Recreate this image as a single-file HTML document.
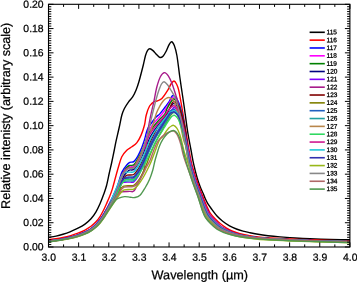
<!DOCTYPE html>
<html><head><meta charset="utf-8"><title>Spectra</title>
<style>html,body{margin:0;padding:0;background:#fff;}body{width:357px;height:282px;overflow:hidden;font-family:"Liberation Sans",sans-serif;}svg{display:block;will-change:transform;}.t{filter:grayscale(1);text-rendering:geometricPrecision;}</style>
</head><body>
<svg width="357" height="282" viewBox="0 0 357 282">
<rect width="357" height="282" fill="#fff"/>
<defs><clipPath id="c"><rect x="48.50" y="4.30" width="301.40" height="242.70"/></clipPath></defs>
<g clip-path="url(#c)" fill="none" stroke-width="1.4" stroke-linejoin="round" stroke-linecap="round">
<path stroke="#000000" d="M48.50,237.40C49.75,237.18 53.58,236.58 56.00,236.06C58.42,235.54 60.67,234.96 63.00,234.26C65.33,233.55 67.50,232.84 70.00,231.83C72.50,230.82 75.50,229.49 78.00,228.19C80.50,226.90 82.83,225.62 85.00,224.06C87.17,222.49 89.17,220.85 91.00,218.81C92.83,216.76 94.50,214.31 96.00,211.81C97.50,209.30 98.75,206.61 100.00,203.78C101.25,200.96 102.42,197.84 103.50,194.84C104.58,191.84 105.53,189.42 106.50,185.78C107.47,182.14 108.43,176.88 109.30,173.00C110.17,169.12 110.87,166.33 111.70,162.50C112.53,158.67 113.60,153.45 114.30,150.00C115.00,146.55 115.07,145.63 115.90,141.80C116.73,137.97 118.32,131.43 119.30,127.00C120.28,122.57 120.95,118.28 121.80,115.20C122.65,112.12 123.27,110.73 124.40,108.50C125.53,106.27 127.20,103.77 128.60,101.80C130.00,99.83 131.55,98.67 132.80,96.70C134.05,94.73 135.08,92.48 136.10,90.00C137.12,87.52 137.70,85.97 138.90,81.80C140.10,77.63 142.20,69.38 143.30,65.00C144.40,60.62 144.78,57.95 145.50,55.50C146.22,53.05 146.87,51.43 147.60,50.30C148.33,49.17 149.00,48.65 149.90,48.70C150.80,48.75 151.90,49.63 153.00,50.60C154.10,51.57 155.33,53.35 156.50,54.50C157.67,55.65 158.92,57.22 160.00,57.50C161.08,57.78 162.00,57.20 163.00,56.20C164.00,55.20 165.00,53.40 166.00,51.50C167.00,49.60 168.07,46.43 169.00,44.80C169.93,43.17 170.72,41.58 171.60,41.70C172.48,41.82 173.42,43.20 174.30,45.50C175.18,47.80 175.98,50.25 176.90,55.50C177.82,60.75 178.95,70.92 179.80,77.00C180.65,83.08 181.25,86.92 182.00,92.00C182.75,97.08 183.35,100.83 184.30,107.50C185.25,114.17 186.58,124.92 187.70,132.00C188.82,139.08 190.03,144.77 191.00,150.00C191.97,155.23 192.47,158.73 193.50,163.40C194.53,168.07 196.08,174.10 197.20,178.00C198.32,181.90 199.20,184.20 200.20,186.80C201.20,189.40 202.37,191.65 203.20,193.60C204.03,195.55 204.43,196.82 205.20,198.50C205.97,200.18 206.67,201.85 207.80,203.70C208.93,205.55 210.47,207.55 212.00,209.60C213.53,211.65 215.22,214.07 217.00,216.00C218.78,217.93 220.62,219.57 222.70,221.20C224.78,222.83 227.22,224.50 229.50,225.80C231.78,227.10 234.15,228.12 236.40,229.00C238.65,229.88 240.73,230.48 243.00,231.10C245.27,231.72 247.50,232.16 250.00,232.70C252.50,233.24 255.00,233.82 258.00,234.31C261.00,234.81 264.33,235.26 268.00,235.68C271.67,236.10 275.50,236.46 280.00,236.84C284.50,237.21 290.00,237.61 295.00,237.94C300.00,238.27 304.17,238.53 310.00,238.80C315.83,239.07 323.35,239.38 330.00,239.55C336.65,239.72 346.58,239.76 349.90,239.80"/>
<path stroke="#ff0000" d="M48.50,239.60C49.75,239.46 53.58,239.10 56.00,238.76C58.42,238.42 60.67,238.04 63.00,237.56C65.33,237.08 67.50,236.60 70.00,235.87C72.50,235.15 75.50,234.18 78.00,233.20C80.50,232.23 82.83,231.18 85.00,230.02C87.17,228.87 89.17,227.65 91.00,226.29C92.83,224.93 94.50,223.47 96.00,221.85C97.50,220.24 98.75,218.52 100.00,216.58C101.25,214.64 102.42,212.36 103.50,210.22C104.58,208.07 105.52,205.91 106.50,203.70C107.48,201.50 108.43,199.43 109.40,197.00C110.37,194.57 111.40,191.93 112.30,189.10C113.20,186.27 113.77,183.72 114.80,180.00C115.83,176.28 117.33,170.68 118.50,166.80C119.67,162.92 120.42,159.47 121.80,156.70C123.18,153.93 125.12,151.85 126.80,150.20C128.48,148.55 130.22,148.07 131.90,146.80C133.58,145.53 135.37,144.55 136.90,142.60C138.43,140.65 139.83,138.03 141.10,135.10C142.37,132.17 143.65,128.32 144.50,125.00C145.35,121.68 145.35,118.37 146.20,115.20C147.05,112.03 148.33,108.23 149.60,106.00C150.87,103.77 152.57,102.63 153.80,101.80C155.03,100.97 155.65,101.53 157.00,101.00C158.35,100.47 160.10,100.40 161.90,98.60C163.70,96.80 166.28,92.63 167.80,90.20C169.32,87.77 169.97,85.53 171.00,84.00C172.03,82.47 173.08,81.00 174.00,81.00C174.92,81.00 175.72,82.47 176.50,84.00C177.28,85.53 177.78,86.20 178.70,90.20C179.62,94.20 180.78,101.03 182.00,108.00C183.22,114.97 184.83,125.00 186.00,132.00C187.17,139.00 188.00,144.50 189.00,150.00C190.00,155.50 190.78,160.17 192.00,165.00C193.22,169.83 195.05,175.17 196.30,179.00C197.55,182.83 198.48,185.25 199.50,188.00C200.52,190.75 201.50,193.22 202.40,195.50C203.30,197.78 204.05,199.65 204.90,201.70C205.75,203.75 206.62,205.88 207.50,207.80C208.38,209.72 208.98,211.42 210.20,213.20C211.42,214.98 213.08,216.73 214.80,218.50C216.52,220.27 218.62,222.25 220.50,223.80C222.38,225.35 224.18,226.60 226.10,227.80C228.02,229.00 229.68,230.00 232.00,231.00C234.32,232.00 237.00,233.02 240.00,233.80C243.00,234.58 247.00,235.19 250.00,235.70C253.00,236.21 255.00,236.50 258.00,236.85C261.00,237.19 264.33,237.50 268.00,237.77C271.67,238.03 275.50,238.22 280.00,238.45C284.50,238.68 290.00,238.90 295.00,239.13C300.00,239.35 304.17,239.56 310.00,239.80C315.83,240.04 323.35,240.36 330.00,240.56C336.65,240.76 346.58,240.93 349.90,241.00"/>
<path stroke="#0000ff" d="M48.50,241.14C49.75,240.97 53.58,240.49 56.00,240.11C58.42,239.73 60.67,239.33 63.00,238.85C65.33,238.37 67.50,237.90 70.00,237.24C72.50,236.58 75.50,235.73 78.00,234.89C80.50,234.05 82.83,233.22 85.00,232.21C87.17,231.21 89.17,230.14 91.00,228.86C92.83,227.59 94.50,226.08 96.00,224.57C97.50,223.05 98.67,221.57 100.00,219.78C101.33,217.98 102.67,215.98 104.00,213.81C105.33,211.64 106.52,209.55 108.00,206.75C109.48,203.95 111.35,200.29 112.86,197.00C114.37,193.71 115.83,190.33 117.06,187.00C118.29,183.67 119.43,179.53 120.26,177.00C121.09,174.47 120.98,173.80 122.06,171.80C123.14,169.80 125.48,166.58 126.76,165.00C128.04,163.42 128.59,162.87 129.76,162.30C130.93,161.73 132.48,162.60 133.80,161.60C135.12,160.60 136.38,158.62 137.70,156.30C139.02,153.98 140.57,150.45 141.70,147.70C142.83,144.95 143.70,142.42 144.50,139.80C145.30,137.18 145.83,134.13 146.50,132.00C147.17,129.87 147.70,128.45 148.50,127.00C149.30,125.55 150.12,124.88 151.30,123.30C152.48,121.72 154.15,119.12 155.60,117.50C157.05,115.88 158.40,115.35 160.00,113.60C161.60,111.85 163.67,109.00 165.20,107.00C166.73,105.00 168.15,103.27 169.20,101.60C170.25,99.93 170.82,98.00 171.50,97.00C172.18,96.00 172.47,95.38 173.30,95.60C174.13,95.82 175.57,97.05 176.50,98.30C177.43,99.55 178.18,101.30 178.90,103.10C179.62,104.90 179.93,105.85 180.80,109.10C181.67,112.35 183.13,117.45 184.10,122.60C185.07,127.75 185.96,135.43 186.64,140.00C187.33,144.57 187.46,145.83 188.21,150.00C188.96,154.17 189.94,160.17 191.12,165.00C192.31,169.83 194.07,175.17 195.30,179.00C196.53,182.83 197.47,185.20 198.50,188.00C199.53,190.80 200.57,193.43 201.48,195.81C202.39,198.19 203.13,200.17 203.96,202.28C204.79,204.39 205.58,206.50 206.46,208.47C207.33,210.44 207.99,212.24 209.22,214.10C210.45,215.95 212.11,217.77 213.84,219.61C215.57,221.46 217.67,223.59 219.62,225.18C221.56,226.77 223.50,227.99 225.51,229.15C227.52,230.32 229.27,231.21 231.69,232.16C234.10,233.10 236.95,234.07 240.00,234.83C243.05,235.58 247.00,236.19 250.00,236.67C253.00,237.16 254.67,237.39 258.00,237.73C261.33,238.07 264.67,238.37 270.00,238.70C275.33,239.02 283.33,239.39 290.00,239.70C296.67,240.00 303.33,240.26 310.00,240.51C316.67,240.75 323.35,240.97 330.00,241.16C336.65,241.36 346.58,241.58 349.90,241.66"/>
<path stroke="#ff00ff" d="M48.50,241.38C49.75,241.21 53.58,240.72 56.00,240.35C58.42,239.98 60.67,239.60 63.00,239.15C65.33,238.70 67.50,238.27 70.00,237.65C72.50,237.03 75.50,236.23 78.00,235.42C80.50,234.62 82.83,233.79 85.00,232.81C87.17,231.83 89.17,230.77 91.00,229.54C92.83,228.31 94.50,226.88 96.00,225.43C97.50,223.99 98.67,222.59 100.00,220.86C101.33,219.14 102.67,217.17 104.00,215.07C105.33,212.97 106.26,211.26 108.00,208.25C109.74,205.24 112.64,200.54 114.41,197.00C116.18,193.46 117.38,190.33 118.61,187.00C119.84,183.67 120.49,180.00 121.81,177.00C123.13,174.00 125.26,170.78 126.54,169.00C127.83,167.22 128.33,166.87 129.54,166.30C130.75,165.73 132.31,166.90 133.80,165.60C135.29,164.30 137.05,161.10 138.50,158.50C139.95,155.90 141.33,152.92 142.50,150.00C143.67,147.08 144.62,143.83 145.50,141.00C146.38,138.17 146.97,135.17 147.80,133.00C148.63,130.83 149.47,129.67 150.50,128.00C151.53,126.33 152.75,124.58 154.00,123.00C155.25,121.42 156.67,120.00 158.00,118.50C159.33,117.00 160.67,115.67 162.00,114.00C163.33,112.33 164.75,110.42 166.00,108.50C167.25,106.58 168.58,104.08 169.50,102.50C170.42,100.92 170.92,99.82 171.50,99.00C172.08,98.18 172.22,97.38 173.00,97.60C173.78,97.82 175.27,99.05 176.20,100.30C177.13,101.55 177.88,103.30 178.60,105.10C179.32,106.90 179.63,107.85 180.50,111.10C181.37,114.35 182.85,119.78 183.80,124.60C184.75,129.42 185.50,135.77 186.19,140.00C186.89,144.23 187.19,145.83 187.97,150.00C188.75,154.17 189.69,160.17 190.86,165.00C192.03,169.83 193.78,175.17 195.00,179.00C196.22,182.83 197.17,185.18 198.20,188.00C199.23,190.82 200.29,193.50 201.21,195.91C202.12,198.32 202.86,200.33 203.68,202.46C204.50,204.59 205.27,206.68 206.15,208.67C207.02,210.65 207.69,212.49 208.93,214.36C210.17,216.24 211.83,218.06 213.58,219.91C215.33,221.76 217.46,223.89 219.43,225.47C221.40,227.05 223.37,228.25 225.41,229.39C227.44,230.53 229.21,231.39 231.64,232.32C234.08,233.24 236.94,234.19 240.00,234.93C243.06,235.67 247.00,236.26 250.00,236.74C253.00,237.21 254.67,237.44 258.00,237.77C261.33,238.10 264.67,238.40 270.00,238.73C275.33,239.06 283.33,239.43 290.00,239.73C296.67,240.03 303.33,240.29 310.00,240.54C316.67,240.78 323.35,241.00 330.00,241.19C336.65,241.38 346.58,241.61 349.90,241.69"/>
<path stroke="#008000" d="M48.50,241.26C49.75,241.09 53.58,240.61 56.00,240.23C58.42,239.85 60.67,239.46 63.00,239.00C65.33,238.54 67.50,238.09 70.00,237.45C72.50,236.80 75.50,235.98 78.00,235.16C80.50,234.34 82.83,233.50 85.00,232.51C87.17,231.52 89.17,230.45 91.00,229.20C92.83,227.95 94.50,226.48 96.00,225.00C97.50,223.52 98.67,222.08 100.00,220.32C101.33,218.56 102.67,216.57 104.00,214.43C105.33,212.30 106.39,210.41 108.00,207.50C109.61,204.59 112.00,200.42 113.64,197.00C115.27,193.58 116.60,190.33 117.84,187.00C119.07,183.67 119.64,180.13 121.04,177.00C122.43,173.87 124.82,170.12 126.18,168.20C127.53,166.28 127.91,166.07 129.18,165.50C130.45,164.93 132.33,165.97 133.80,164.80C135.27,163.63 136.60,160.88 138.00,158.50C139.40,156.12 140.90,153.33 142.20,150.50C143.50,147.67 144.70,144.33 145.80,141.50C146.90,138.67 147.77,135.67 148.80,133.50C149.83,131.33 150.80,130.17 152.00,128.50C153.20,126.83 154.67,125.08 156.00,123.50C157.33,121.92 158.55,120.55 160.00,119.00C161.45,117.45 163.53,115.90 164.70,114.20C165.87,112.50 166.03,110.75 167.00,108.80C167.97,106.85 169.38,104.13 170.50,102.50C171.62,100.87 172.63,99.13 173.70,99.00C174.77,98.87 175.97,100.45 176.90,101.70C177.83,102.95 178.58,104.70 179.30,106.50C180.02,108.30 180.33,109.25 181.20,112.50C182.07,115.75 183.62,121.42 184.50,126.00C185.38,130.58 185.90,136.00 186.45,140.00C187.00,144.00 187.11,145.83 187.81,150.00C188.52,154.17 189.52,160.17 190.69,165.00C191.85,169.83 193.58,175.17 194.80,179.00C196.02,182.83 196.96,185.17 198.00,188.00C199.04,190.83 200.11,193.54 201.03,195.97C201.94,198.40 202.68,200.44 203.49,202.57C204.31,204.71 205.06,206.81 205.94,208.80C206.81,210.79 207.49,212.66 208.73,214.54C209.98,216.43 211.65,218.26 213.41,220.11C215.17,221.97 217.31,224.10 219.30,225.67C221.29,227.24 223.28,228.42 225.34,229.54C227.39,230.67 229.17,231.51 231.62,232.42C234.06,233.33 236.94,234.27 240.00,235.00C243.06,235.72 247.00,236.31 250.00,236.78C253.00,237.24 254.67,237.47 258.00,237.79C261.33,238.12 264.67,238.43 270.00,238.75C275.33,239.08 283.33,239.45 290.00,239.75C296.67,240.05 303.33,240.32 310.00,240.56C316.67,240.80 323.35,241.02 330.00,241.21C336.65,241.40 346.58,241.63 349.90,241.71"/>
<path stroke="#000080" d="M48.50,241.34C49.75,241.17 53.58,240.68 56.00,240.31C58.42,239.94 60.67,239.55 63.00,239.10C65.33,238.65 67.50,238.21 70.00,237.58C72.50,236.95 75.50,236.15 78.00,235.34C80.50,234.52 82.83,233.70 85.00,232.71C87.17,231.73 89.17,230.67 91.00,229.43C92.83,228.19 94.50,226.75 96.00,225.29C97.50,223.83 98.67,222.42 100.00,220.68C101.33,218.94 102.67,216.97 104.00,214.86C105.33,212.74 106.01,210.98 108.00,208.00C109.99,205.02 113.93,200.50 115.95,197.00C117.98,193.50 118.92,190.33 120.15,187.00C121.39,183.67 122.33,179.37 123.35,177.00C124.38,174.63 125.31,173.95 126.31,172.80C127.30,171.65 128.06,170.67 129.31,170.10C130.56,169.53 132.32,170.50 133.80,169.40C135.28,168.30 136.75,165.90 138.20,163.50C139.65,161.10 141.12,158.00 142.50,155.00C143.88,152.00 145.22,148.50 146.50,145.50C147.78,142.50 148.95,139.42 150.20,137.00C151.45,134.58 152.70,132.92 154.00,131.00C155.30,129.08 156.67,127.25 158.00,125.50C159.33,123.75 160.67,122.25 162.00,120.50C163.33,118.75 164.75,116.92 166.00,115.00C167.25,113.08 168.50,110.67 169.50,109.00C170.50,107.33 171.25,105.93 172.00,105.00C172.75,104.07 173.13,103.22 174.00,103.40C174.87,103.58 176.27,104.85 177.20,106.10C178.13,107.35 178.88,109.10 179.60,110.90C180.32,112.70 180.63,113.65 181.50,116.90C182.37,120.15 184.02,126.55 184.80,130.40C185.58,134.25 185.75,136.73 186.21,140.00C186.67,143.27 186.87,145.83 187.57,150.00C188.28,154.17 189.27,160.17 190.43,165.00C191.58,169.83 193.29,175.17 194.50,179.00C195.71,182.83 196.66,185.16 197.70,188.00C198.74,190.84 199.83,193.60 200.75,196.06C201.67,198.52 202.40,200.59 203.21,202.75C204.03,204.91 204.75,206.99 205.62,209.00C206.50,211.01 207.18,212.91 208.44,214.81C209.69,216.71 211.38,218.55 213.16,220.41C214.93,222.27 217.10,224.40 219.11,225.96C221.12,227.53 223.16,228.67 225.24,229.78C227.31,230.88 229.11,231.69 231.57,232.58C234.03,233.47 236.93,234.39 240.00,235.10C243.07,235.81 247.00,236.38 250.00,236.84C253.00,237.29 254.67,237.51 258.00,237.83C261.33,238.16 264.67,238.46 270.00,238.79C275.33,239.11 283.33,239.49 290.00,239.79C296.67,240.09 303.33,240.35 310.00,240.59C316.67,240.83 323.35,241.05 330.00,241.24C336.65,241.43 346.58,241.66 349.90,241.74"/>
<path stroke="#8000ff" d="M48.50,241.10C49.75,240.93 53.58,240.45 56.00,240.07C58.42,239.69 60.67,239.28 63.00,238.80C65.33,238.32 67.50,237.84 70.00,237.18C72.50,236.51 75.50,235.65 78.00,234.80C80.50,233.96 82.83,233.12 85.00,232.11C87.17,231.10 89.17,230.03 91.00,228.75C92.83,227.47 94.50,225.95 96.00,224.42C97.50,222.90 98.67,221.40 100.00,219.59C101.33,217.79 102.67,215.79 104.00,213.61C105.33,211.42 106.57,209.27 108.00,206.50C109.43,203.73 110.79,200.55 112.60,197.00C114.41,193.45 117.33,187.62 118.88,185.20C120.42,182.78 120.06,183.02 121.88,182.50C123.70,181.98 127.81,182.22 129.80,182.10C131.79,181.98 132.42,182.73 133.80,181.80C135.18,180.87 136.73,178.80 138.10,176.50C139.47,174.20 140.68,171.08 142.00,168.00C143.32,164.92 144.67,161.25 146.00,158.00C147.33,154.75 148.67,151.50 150.00,148.50C151.33,145.50 152.67,142.67 154.00,140.00C155.33,137.33 156.67,134.83 158.00,132.50C159.33,130.17 160.67,128.17 162.00,126.00C163.33,123.83 164.67,121.75 166.00,119.50C167.33,117.25 168.92,114.25 170.00,112.50C171.08,110.75 171.78,109.82 172.50,109.00C173.22,108.18 173.47,107.38 174.30,107.60C175.13,107.82 176.57,109.05 177.50,110.30C178.43,111.55 179.18,113.30 179.90,115.10C180.62,116.90 180.93,117.85 181.80,121.10C182.67,124.35 184.20,129.78 185.10,134.60C186.00,139.42 186.36,144.93 187.18,150.00C187.99,155.07 188.85,160.17 189.99,165.00C191.12,169.83 192.80,175.17 194.00,179.00C195.20,182.83 196.15,185.13 197.20,188.00C198.25,190.87 199.37,193.71 200.29,196.22C201.22,198.73 201.94,200.86 202.74,203.04C203.55,205.23 204.24,207.30 205.10,209.33C205.97,211.37 206.68,213.33 207.95,215.26C209.22,217.19 210.92,219.04 212.73,220.91C214.54,222.78 216.74,224.91 218.79,226.46C220.85,228.00 222.95,229.10 225.06,230.17C227.18,231.23 229.01,232.00 231.50,232.85C233.99,233.70 236.92,234.59 240.00,235.27C243.08,235.95 247.00,236.50 250.00,236.94C253.00,237.38 254.67,237.58 258.00,237.90C261.33,238.22 264.67,238.52 270.00,238.84C275.33,239.17 283.33,239.54 290.00,239.84C296.67,240.14 303.33,240.40 310.00,240.64C316.67,240.88 323.35,241.09 330.00,241.29C336.65,241.48 346.58,241.70 349.90,241.79"/>
<path stroke="#a81c8c" d="M48.50,241.58C49.75,241.41 53.58,240.91 56.00,240.55C58.42,240.19 60.67,239.83 63.00,239.40C65.33,238.97 67.50,238.57 70.00,237.98C72.50,237.39 75.50,236.64 78.00,235.87C80.50,235.09 82.83,234.27 85.00,233.32C87.17,232.36 89.17,231.31 91.00,230.12C92.83,228.92 94.50,227.54 96.00,226.15C97.50,224.76 98.67,223.43 100.00,221.77C101.33,220.10 102.67,218.20 104.00,216.15C105.33,214.11 105.62,213.11 108.00,209.50C110.38,205.89 116.05,197.45 118.25,194.50C120.46,191.55 119.33,192.32 121.25,191.80C123.18,191.28 127.71,191.52 129.80,191.40C131.89,191.28 132.42,192.43 133.80,191.10C135.18,189.77 136.82,185.83 138.10,183.40C139.38,180.97 140.55,178.65 141.50,176.50C142.45,174.35 143.22,172.92 143.80,170.50C144.38,168.08 144.65,165.42 145.00,162.00C145.35,158.58 145.58,153.67 145.90,150.00C146.22,146.33 146.55,143.28 146.90,140.00C147.25,136.72 147.42,134.15 148.00,130.30C148.58,126.45 149.43,121.65 150.40,116.90C151.37,112.15 152.72,106.82 153.80,101.80C154.88,96.78 155.78,91.02 156.90,86.80C158.02,82.58 159.23,78.87 160.50,76.50C161.77,74.13 163.20,72.72 164.50,72.60C165.80,72.48 167.05,73.98 168.30,75.80C169.55,77.62 170.73,80.23 172.00,83.50C173.27,86.77 175.02,92.67 175.90,95.40C176.78,98.13 176.68,97.47 177.30,99.90C177.92,102.33 178.85,106.48 179.60,110.00C180.35,113.52 181.07,117.17 181.80,121.00C182.53,124.83 183.22,128.17 184.00,133.00C184.78,137.83 185.60,144.67 186.47,150.00C187.33,155.33 188.09,160.17 189.20,165.00C190.31,169.83 191.92,175.17 193.10,179.00C194.28,182.83 195.24,185.08 196.30,188.00C197.36,190.92 198.53,193.91 199.47,196.50C200.40,199.09 201.12,201.33 201.90,203.57C202.68,205.81 203.31,207.85 204.17,209.93C205.03,212.02 205.77,214.09 207.07,216.07C208.36,218.05 210.10,219.93 211.96,221.81C213.82,223.69 216.09,225.83 218.22,227.34C220.36,228.85 222.57,229.87 224.76,230.87C226.95,231.87 228.83,232.54 231.37,233.32C233.91,234.11 236.90,234.94 240.00,235.58C243.10,236.21 247.00,236.72 250.00,237.12C253.00,237.53 254.67,237.71 258.00,238.02C261.33,238.32 264.67,238.62 270.00,238.94C275.33,239.27 283.33,239.65 290.00,239.94C296.67,240.24 303.33,240.49 310.00,240.73C316.67,240.97 323.35,241.18 330.00,241.37C336.65,241.56 346.58,241.79 349.90,241.87"/>
<path stroke="#800000" d="M48.50,241.42C49.75,241.25 53.58,240.76 56.00,240.39C58.42,240.02 60.67,239.65 63.00,239.20C65.33,238.75 67.50,238.33 70.00,237.71C72.50,237.10 75.50,236.31 78.00,235.51C80.50,234.71 82.83,233.89 85.00,232.91C87.17,231.94 89.17,230.88 91.00,229.66C92.83,228.44 94.50,227.01 96.00,225.58C97.50,224.14 98.67,222.76 100.00,221.04C101.33,219.33 102.67,217.38 104.00,215.29C105.33,213.20 106.07,211.55 108.00,208.50C109.93,205.45 113.61,200.58 115.57,197.00C117.53,193.42 118.33,190.18 119.77,187.00C121.21,183.82 122.95,179.87 124.18,177.90C125.42,175.93 125.58,175.77 127.18,175.20C128.78,174.63 131.91,175.62 133.80,174.50C135.69,173.38 137.00,170.92 138.50,168.50C140.00,166.08 141.42,163.00 142.80,160.00C144.18,157.00 145.52,153.58 146.80,150.50C148.08,147.42 149.27,144.25 150.50,141.50C151.73,138.75 152.95,136.42 154.20,134.00C155.45,131.58 156.70,129.08 158.00,127.00C159.30,124.92 160.67,123.50 162.00,121.50C163.33,119.50 164.75,117.17 166.00,115.00C167.25,112.83 168.50,110.42 169.50,108.50C170.50,106.58 171.23,104.68 172.00,103.50C172.77,102.32 173.22,101.30 174.10,101.40C174.98,101.50 176.37,102.85 177.30,104.10C178.23,105.35 178.98,107.10 179.70,108.90C180.42,110.70 180.73,111.65 181.60,114.90C182.47,118.15 184.08,124.22 184.90,128.40C185.72,132.58 186.04,136.40 186.51,140.00C186.98,143.60 187.05,145.83 187.73,150.00C188.42,154.17 189.44,160.17 190.60,165.00C191.76,169.83 193.48,175.17 194.70,179.00C195.92,182.83 196.86,185.17 197.90,188.00C198.94,190.83 200.02,193.56 200.93,196.00C201.85,198.44 202.58,200.49 203.40,202.63C204.22,204.78 204.96,206.87 205.83,208.87C206.71,210.87 207.38,212.74 208.63,214.63C209.88,216.52 211.56,218.36 213.33,220.21C215.09,222.07 217.24,224.20 219.24,225.77C221.23,227.34 223.24,228.50 225.30,229.62C227.36,230.74 229.15,231.57 231.60,232.47C234.05,233.38 236.93,234.31 240.00,235.03C243.07,235.75 247.00,236.33 250.00,236.80C253.00,237.26 254.67,237.48 258.00,237.81C261.33,238.14 264.67,238.44 270.00,238.76C275.33,239.09 283.33,239.46 290.00,239.76C296.67,240.06 303.33,240.33 310.00,240.57C316.67,240.81 323.35,241.03 330.00,241.22C336.65,241.41 346.58,241.64 349.90,241.72"/>
<path stroke="#808000" d="M48.50,241.58C49.75,241.41 53.58,240.91 56.00,240.55C58.42,240.19 60.67,239.83 63.00,239.40C65.33,238.97 67.50,238.57 70.00,237.98C72.50,237.39 75.50,236.64 78.00,235.87C80.50,235.09 82.83,234.27 85.00,233.32C87.17,232.36 89.17,231.31 91.00,230.12C92.83,228.92 94.50,227.54 96.00,226.15C97.50,224.76 98.67,223.43 100.00,221.77C101.33,220.10 102.67,218.20 104.00,216.15C105.33,214.11 106.05,212.69 108.00,209.50C109.95,206.31 113.60,200.45 115.70,197.00C117.81,193.55 119.33,190.62 120.65,188.80C121.97,186.98 122.12,186.62 123.65,186.10C125.17,185.58 128.11,185.82 129.80,185.70C131.49,185.58 132.42,186.18 133.80,185.40C135.18,184.62 136.65,182.98 138.10,181.00C139.55,179.02 141.13,176.17 142.50,173.50C143.87,170.83 145.05,168.08 146.30,165.00C147.55,161.92 148.72,158.25 150.00,155.00C151.28,151.75 152.67,148.42 154.00,145.50C155.33,142.58 156.67,140.00 158.00,137.50C159.33,135.00 160.67,132.92 162.00,130.50C163.33,128.08 164.67,125.42 166.00,123.00C167.33,120.58 168.92,117.63 170.00,116.00C171.08,114.37 171.80,113.83 172.50,113.20C173.20,112.57 173.38,111.92 174.20,112.20C175.02,112.48 176.47,113.65 177.40,114.90C178.33,116.15 179.08,117.90 179.80,119.70C180.52,121.50 180.83,122.45 181.70,125.70C182.57,128.95 184.14,135.15 185.00,139.20C185.86,143.25 186.09,145.70 186.86,150.00C187.64,154.30 188.51,160.17 189.64,165.00C190.76,169.83 192.41,175.17 193.60,179.00C194.79,182.83 195.75,185.11 196.80,188.00C197.85,190.89 199.00,193.80 199.93,196.34C200.85,198.89 201.58,201.07 202.37,203.28C203.16,205.48 203.82,207.54 204.69,209.60C205.55,211.66 206.27,213.67 207.56,215.62C208.84,217.57 210.55,219.44 212.38,221.31C214.22,223.18 216.45,225.32 218.54,226.85C220.63,228.38 222.78,229.44 224.93,230.48C227.08,231.51 228.93,232.24 231.44,233.06C233.96,233.88 236.91,234.75 240.00,235.41C243.09,236.07 247.00,236.60 250.00,237.02C253.00,237.45 254.67,237.64 258.00,237.95C261.33,238.26 264.67,238.57 270.00,238.89C275.33,239.21 283.33,239.59 290.00,239.89C296.67,240.19 303.33,240.44 310.00,240.68C316.67,240.92 323.35,241.13 330.00,241.32C336.65,241.51 346.58,241.74 349.90,241.82"/>
<path stroke="#2060c0" d="M48.50,241.46C49.75,241.29 53.58,240.80 56.00,240.43C58.42,240.06 60.67,239.69 63.00,239.25C65.33,238.81 67.50,238.39 70.00,237.78C72.50,237.17 75.50,236.40 78.00,235.60C80.50,234.81 82.83,233.99 85.00,233.01C87.17,232.04 89.17,230.99 91.00,229.77C92.83,228.56 94.50,227.14 96.00,225.72C97.50,224.30 98.67,222.93 100.00,221.23C101.33,219.52 102.67,217.58 104.00,215.50C105.33,213.42 106.18,211.83 108.00,208.75C109.82,205.67 113.07,200.62 114.93,197.00C116.78,193.38 117.81,189.83 119.13,187.00C120.45,184.17 121.75,181.62 122.87,180.00C123.99,178.38 124.71,177.82 125.87,177.30C127.02,176.78 128.48,177.02 129.80,176.90C131.12,176.78 132.42,177.58 133.80,176.60C135.18,175.62 136.65,173.35 138.10,171.00C139.55,168.65 141.10,165.50 142.50,162.50C143.90,159.50 145.18,156.08 146.50,153.00C147.82,149.92 149.10,146.75 150.40,144.00C151.70,141.25 153.00,138.83 154.30,136.50C155.60,134.17 156.92,132.08 158.20,130.00C159.48,127.92 160.70,126.08 162.00,124.00C163.30,121.92 164.67,119.58 166.00,117.50C167.33,115.42 168.92,112.75 170.00,111.50C171.08,110.25 171.80,110.35 172.50,110.00C173.20,109.65 173.38,109.05 174.20,109.40C175.02,109.75 176.47,110.85 177.40,112.10C178.33,113.35 179.08,115.10 179.80,116.90C180.52,118.70 180.83,119.65 181.70,122.90C182.57,126.15 184.07,131.88 185.00,136.40C185.93,140.92 186.41,145.23 187.26,150.00C188.10,154.77 188.93,160.17 190.08,165.00C191.22,169.83 192.90,175.17 194.10,179.00C195.30,182.83 196.25,185.14 197.30,188.00C198.35,190.86 199.46,193.69 200.38,196.19C201.31,198.68 202.03,200.80 202.84,202.98C203.64,205.16 204.34,207.24 205.21,209.27C206.08,211.30 206.78,213.25 208.05,215.17C209.31,217.09 211.01,218.95 212.81,220.81C214.62,222.67 216.81,224.81 218.86,226.36C220.90,227.91 222.99,229.02 225.10,230.09C227.21,231.16 229.03,231.94 231.52,232.79C234.00,233.65 236.92,234.55 240.00,235.24C243.08,235.92 247.00,236.48 250.00,236.92C253.00,237.36 254.67,237.57 258.00,237.89C261.33,238.21 264.67,238.51 270.00,238.83C275.33,239.16 283.33,239.53 290.00,239.83C296.67,240.13 303.33,240.39 310.00,240.63C316.67,240.87 323.35,241.08 330.00,241.28C336.65,241.47 346.58,241.69 349.90,241.78"/>
<path stroke="#20a0a0" d="M48.50,241.42C49.75,241.25 53.58,240.76 56.00,240.39C58.42,240.02 60.67,239.65 63.00,239.20C65.33,238.75 67.50,238.33 70.00,237.71C72.50,237.10 75.50,236.31 78.00,235.51C80.50,234.71 82.83,233.89 85.00,232.91C87.17,231.94 89.17,230.88 91.00,229.66C92.83,228.44 94.50,227.01 96.00,225.58C97.50,224.14 98.67,222.76 100.00,221.04C101.33,219.33 102.67,217.38 104.00,215.29C105.33,213.20 106.51,211.55 108.00,208.50C109.49,205.45 111.02,201.08 112.96,197.00C114.90,192.92 118.01,186.62 119.62,184.00C121.23,181.38 120.92,181.82 122.62,181.30C124.32,180.78 127.94,181.02 129.80,180.90C131.66,180.78 132.42,181.50 133.80,180.60C135.18,179.70 136.68,177.68 138.10,175.50C139.52,173.32 140.93,170.42 142.30,167.50C143.67,164.58 144.97,161.17 146.30,158.00C147.63,154.83 148.97,151.42 150.30,148.50C151.63,145.58 152.97,143.00 154.30,140.50C155.63,138.00 156.97,135.67 158.30,133.50C159.63,131.33 160.97,129.58 162.30,127.50C163.63,125.42 165.02,123.08 166.30,121.00C167.58,118.92 168.97,116.33 170.00,115.00C171.03,113.67 171.80,113.43 172.50,113.00C173.20,112.57 173.38,112.05 174.20,112.40C175.02,112.75 176.47,113.85 177.40,115.10C178.33,116.35 179.08,118.10 179.80,119.90C180.52,121.70 180.83,122.65 181.70,125.90C182.57,129.15 184.13,135.38 185.00,139.40C185.87,143.42 186.15,145.73 186.94,150.00C187.73,154.27 188.60,160.17 189.72,165.00C190.85,169.83 192.50,175.17 193.70,179.00C194.90,182.83 195.85,185.11 196.90,188.00C197.95,190.89 199.09,193.78 200.02,196.31C200.94,198.85 201.67,201.01 202.46,203.22C203.26,205.42 203.93,207.48 204.79,209.53C205.66,211.59 206.37,213.58 207.65,215.53C208.93,217.48 210.65,219.34 212.47,221.21C214.30,223.08 216.52,225.22 218.60,226.75C220.69,228.29 222.82,229.36 224.96,230.40C227.10,231.44 228.95,232.18 231.46,233.01C233.96,233.83 236.91,234.71 240.00,235.37C243.09,236.04 247.00,236.57 250.00,237.00C253.00,237.43 254.67,237.63 258.00,237.94C261.33,238.25 264.67,238.55 270.00,238.88C275.33,239.20 283.33,239.58 290.00,239.88C296.67,240.18 303.33,240.43 310.00,240.67C316.67,240.91 323.35,241.12 330.00,241.31C336.65,241.50 346.58,241.73 349.90,241.81"/>
<path stroke="#b8864b" d="M48.50,241.34C49.75,241.17 53.58,240.68 56.00,240.31C58.42,239.94 60.67,239.55 63.00,239.10C65.33,238.65 67.50,238.21 70.00,237.58C72.50,236.95 75.50,236.15 78.00,235.34C80.50,234.52 82.83,233.70 85.00,232.71C87.17,231.73 89.17,230.67 91.00,229.43C92.83,228.19 94.50,226.75 96.00,225.29C97.50,223.83 98.67,222.42 100.00,220.68C101.33,218.94 102.67,216.97 104.00,214.86C105.33,212.74 106.31,210.98 108.00,208.00C109.69,205.02 112.43,200.50 114.15,197.00C115.88,193.50 117.12,190.33 118.35,187.00C119.59,183.67 120.36,179.75 121.55,177.00C122.75,174.25 124.36,172.03 125.52,170.50C126.68,168.97 127.14,168.37 128.52,167.80C129.90,167.23 132.39,168.15 133.80,167.10C135.21,166.05 135.97,163.35 137.00,161.50C138.03,159.65 139.08,157.92 140.00,156.00C140.92,154.08 141.67,152.17 142.50,150.00C143.33,147.83 144.15,145.17 145.00,143.00C145.85,140.83 146.70,138.83 147.60,137.00C148.50,135.17 149.37,134.50 150.40,132.00C151.43,129.50 152.82,125.08 153.80,122.00C154.78,118.92 155.30,116.15 156.30,113.50C157.30,110.85 158.62,108.22 159.80,106.10C160.98,103.97 162.37,102.02 163.40,100.75C164.43,99.48 165.11,99.04 166.00,98.50C166.89,97.96 167.88,97.52 168.75,97.50C169.62,97.48 170.46,98.00 171.20,98.40C171.94,98.80 172.57,99.07 173.20,99.90C173.83,100.73 174.40,101.77 175.00,103.40C175.60,105.03 176.13,107.18 176.80,109.70C177.47,112.22 178.25,115.28 179.00,118.50C179.75,121.72 180.53,125.42 181.30,129.00C182.07,132.58 182.66,136.50 183.63,140.00C184.60,143.50 186.06,145.83 187.10,150.00C188.14,154.17 188.77,160.17 189.90,165.00C191.03,169.83 192.70,175.17 193.90,179.00C195.10,182.83 196.05,185.12 197.10,188.00C198.15,190.88 199.27,193.73 200.20,196.25C201.12,198.77 201.85,200.91 202.65,203.10C203.45,205.29 204.13,207.36 205.00,209.40C205.87,211.44 206.58,213.42 207.85,215.35C209.12,217.28 210.83,219.14 212.64,221.01C214.46,222.88 216.67,225.02 218.73,226.56C220.79,228.10 222.90,229.19 225.03,230.25C227.16,231.30 228.99,232.06 231.49,232.90C233.98,233.74 236.91,234.63 240.00,235.30C243.09,235.98 247.00,236.53 250.00,236.96C253.00,237.40 254.67,237.60 258.00,237.91C261.33,238.23 264.67,238.53 270.00,238.85C275.33,239.18 283.33,239.55 290.00,239.85C296.67,240.15 303.33,240.41 310.00,240.65C316.67,240.89 323.35,241.10 330.00,241.30C336.65,241.49 346.58,241.71 349.90,241.80"/>
<path stroke="#30d860" d="M48.50,241.58C49.75,241.41 53.58,240.91 56.00,240.55C58.42,240.19 60.67,239.83 63.00,239.40C65.33,238.97 67.50,238.57 70.00,237.98C72.50,237.39 75.50,236.64 78.00,235.87C80.50,235.09 82.83,234.27 85.00,233.32C87.17,232.36 89.17,231.31 91.00,230.12C92.83,228.92 94.50,227.54 96.00,226.15C97.50,224.76 98.67,223.43 100.00,221.77C101.33,220.10 102.67,218.20 104.00,216.15C105.33,214.11 106.05,212.69 108.00,209.50C109.95,206.31 113.72,200.75 115.70,197.00C117.69,193.25 118.71,189.43 119.91,187.00C121.10,184.57 121.88,183.65 122.88,182.40C123.87,181.15 124.72,180.02 125.88,179.50C127.03,178.98 128.48,179.35 129.80,179.30C131.12,179.25 132.38,179.92 133.80,179.20C135.22,178.48 136.85,176.78 138.30,175.00C139.75,173.22 141.08,171.00 142.50,168.50C143.92,166.00 145.32,162.97 146.80,160.00C148.28,157.03 149.88,153.77 151.40,150.70C152.92,147.63 154.38,144.43 155.90,141.60C157.42,138.77 159.08,136.05 160.50,133.70C161.92,131.35 163.15,129.53 164.40,127.50C165.65,125.47 166.90,123.22 168.00,121.50C169.10,119.78 170.20,118.15 171.00,117.20C171.80,116.25 172.27,116.13 172.80,115.80C173.33,115.47 173.43,114.85 174.20,115.20C174.97,115.55 176.47,116.65 177.40,117.90C178.33,119.15 179.08,120.90 179.80,122.70C180.52,124.50 180.83,125.45 181.70,128.70C182.57,131.95 183.71,136.15 185.00,142.20C186.29,148.25 188.06,158.87 189.46,165.00C190.86,171.13 192.21,175.17 193.40,179.00C194.59,182.83 195.54,185.10 196.60,188.00C197.66,190.90 198.81,193.84 199.74,196.41C200.67,198.97 201.39,201.17 202.18,203.39C202.97,205.61 203.62,207.67 204.48,209.73C205.34,211.80 206.07,213.84 207.36,215.80C208.65,217.76 210.37,219.63 212.21,221.51C214.06,223.38 216.31,225.53 218.41,227.05C220.52,228.57 222.69,229.62 224.86,230.64C227.03,231.65 228.89,232.36 231.41,233.16C233.94,233.97 236.90,234.82 240.00,235.47C243.10,236.12 247.00,236.65 250.00,237.06C253.00,237.48 254.67,237.67 258.00,237.98C261.33,238.29 264.67,238.59 270.00,238.91C275.33,239.23 283.33,239.61 290.00,239.91C296.67,240.21 303.33,240.46 310.00,240.70C316.67,240.94 323.35,241.15 330.00,241.34C336.65,241.53 346.58,241.76 349.90,241.84"/>
<path stroke="#d01890" d="M48.50,241.22C49.75,241.05 53.58,240.57 56.00,240.19C58.42,239.81 60.67,239.42 63.00,238.95C65.33,238.48 67.50,238.02 70.00,237.38C72.50,236.73 75.50,235.90 78.00,235.07C80.50,234.24 82.83,233.41 85.00,232.41C87.17,231.41 89.17,230.35 91.00,229.09C92.83,227.83 94.50,226.35 96.00,224.86C97.50,223.37 98.67,221.91 100.00,220.14C101.33,218.37 102.67,216.37 104.00,214.22C105.33,212.08 106.44,210.12 108.00,207.25C109.56,204.38 111.78,200.38 113.38,197.00C114.97,193.62 116.34,190.33 117.58,187.00C118.81,183.67 119.62,179.67 120.78,177.00C121.93,174.33 123.37,172.45 124.49,171.00C125.60,169.55 125.93,168.87 127.49,168.30C129.04,167.73 131.98,168.82 133.80,167.60C135.62,166.38 136.93,163.52 138.40,161.00C139.87,158.48 141.30,155.50 142.60,152.50C143.90,149.50 145.07,145.92 146.20,143.00C147.33,140.08 148.27,137.25 149.40,135.00C150.53,132.75 151.73,131.25 153.00,129.50C154.27,127.75 155.67,126.08 157.00,124.50C158.33,122.92 159.67,121.58 161.00,120.00C162.33,118.42 163.75,116.67 165.00,115.00C166.25,113.33 167.42,111.33 168.50,110.00C169.58,108.67 170.58,107.70 171.50,107.00C172.42,106.30 173.05,105.55 174.00,105.80C174.95,106.05 176.27,107.25 177.20,108.50C178.13,109.75 178.88,111.50 179.60,113.30C180.32,115.10 180.63,116.05 181.50,119.30C182.37,122.55 183.71,127.68 184.80,132.80C185.89,137.92 187.03,144.63 188.05,150.00C189.08,155.37 189.78,160.17 190.95,165.00C192.13,169.83 193.88,175.17 195.10,179.00C196.33,182.83 197.27,185.19 198.30,188.00C199.33,190.81 200.39,193.47 201.30,195.88C202.21,198.28 202.95,200.28 203.78,202.40C204.60,204.52 205.38,206.62 206.25,208.60C207.12,210.58 207.79,212.41 209.02,214.27C210.26,216.14 211.93,217.96 213.67,219.81C215.41,221.66 217.53,223.79 219.49,225.37C221.45,226.96 223.41,228.16 225.44,229.31C227.47,230.46 229.23,231.33 231.66,232.26C234.09,233.19 236.94,234.15 240.00,234.89C243.06,235.64 247.00,236.24 250.00,236.72C253.00,237.19 254.67,237.42 258.00,237.76C261.33,238.09 264.67,238.39 270.00,238.72C275.33,239.05 283.33,239.42 290.00,239.72C296.67,240.02 303.33,240.28 310.00,240.53C316.67,240.77 323.35,240.99 330.00,241.18C336.65,241.37 346.58,241.60 349.90,241.68"/>
<path stroke="#20c8d8" d="M48.50,241.34C49.75,241.17 53.58,240.68 56.00,240.31C58.42,239.94 60.67,239.55 63.00,239.10C65.33,238.65 67.50,238.21 70.00,237.58C72.50,236.95 75.50,236.15 78.00,235.34C80.50,234.52 82.83,233.70 85.00,232.71C87.17,231.73 89.17,230.67 91.00,229.43C92.83,228.19 94.50,226.75 96.00,225.29C97.50,223.83 98.67,222.42 100.00,220.68C101.33,218.94 102.67,216.97 104.00,214.86C105.33,212.74 106.56,210.98 108.00,208.00C109.44,205.02 111.15,200.50 112.62,197.00C114.09,193.50 115.24,190.63 116.82,187.00C118.41,183.37 120.76,177.62 122.15,175.20C123.53,172.78 123.87,173.02 125.15,172.50C126.42,171.98 128.36,172.22 129.80,172.10C131.24,171.98 132.38,172.82 133.80,171.80C135.22,170.78 136.83,168.30 138.30,166.00C139.77,163.70 141.22,160.92 142.60,158.00C143.98,155.08 145.32,151.58 146.60,148.50C147.88,145.42 149.05,142.17 150.30,139.50C151.55,136.83 152.82,134.58 154.10,132.50C155.38,130.42 156.68,128.75 158.00,127.00C159.32,125.25 160.67,123.67 162.00,122.00C163.33,120.33 164.67,118.58 166.00,117.00C167.33,115.42 168.92,113.47 170.00,112.50C171.08,111.53 171.80,111.50 172.50,111.20C173.20,110.90 173.38,110.33 174.20,110.70C175.02,111.07 176.47,112.15 177.40,113.40C178.33,114.65 179.08,116.40 179.80,118.20C180.52,120.00 180.83,120.95 181.70,124.20C182.57,127.45 184.05,133.40 185.00,137.70C185.95,142.00 186.54,145.45 187.42,150.00C188.29,154.55 189.10,160.17 190.25,165.00C191.40,169.83 193.09,175.17 194.30,179.00C195.51,182.83 196.46,185.15 197.50,188.00C198.54,190.85 199.65,193.65 200.57,196.12C201.49,198.60 202.22,200.70 203.02,202.87C203.83,205.03 204.55,207.11 205.42,209.13C206.29,211.15 206.98,213.08 208.24,214.99C209.50,216.90 211.19,218.75 212.98,220.61C214.77,222.47 216.95,224.61 218.98,226.16C221.01,227.72 223.07,228.85 225.17,229.93C227.26,231.02 229.07,231.81 231.54,232.69C234.02,233.56 236.92,234.47 240.00,235.17C243.08,235.87 247.00,236.43 250.00,236.88C253.00,237.33 254.67,237.54 258.00,237.86C261.33,238.18 264.67,238.48 270.00,238.81C275.33,239.13 283.33,239.51 290.00,239.81C296.67,240.11 303.33,240.37 310.00,240.61C316.67,240.85 323.35,241.07 330.00,241.26C336.65,241.45 346.58,241.67 349.90,241.76"/>
<path stroke="#3030b0" d="M48.50,241.14C49.75,240.97 53.58,240.49 56.00,240.11C58.42,239.73 60.67,239.33 63.00,238.85C65.33,238.37 67.50,237.90 70.00,237.24C72.50,236.58 75.50,235.73 78.00,234.89C80.50,234.05 82.83,233.22 85.00,232.21C87.17,231.21 89.17,230.14 91.00,228.86C92.83,227.59 94.50,226.08 96.00,224.57C97.50,223.05 98.67,221.57 100.00,219.78C101.33,217.98 102.67,215.98 104.00,213.81C105.33,211.64 106.30,209.55 108.00,206.75C109.70,203.95 112.47,200.29 114.21,197.00C115.94,193.71 117.14,189.67 118.41,187.00C119.68,184.33 120.76,182.45 121.83,181.00C122.90,179.55 123.50,178.82 124.83,178.30C126.16,177.78 128.30,178.02 129.80,177.90C131.30,177.78 132.40,178.50 133.80,177.60C135.20,176.70 136.75,174.68 138.20,172.50C139.65,170.32 141.12,167.42 142.50,164.50C143.88,161.58 145.18,158.08 146.50,155.00C147.82,151.92 149.10,148.75 150.40,146.00C151.70,143.25 153.00,140.83 154.30,138.50C155.60,136.17 156.92,134.08 158.20,132.00C159.48,129.92 160.70,128.08 162.00,126.00C163.30,123.92 164.67,121.58 166.00,119.50C167.33,117.42 168.92,114.70 170.00,113.50C171.08,112.30 171.80,112.58 172.50,112.30C173.20,112.02 173.38,111.43 174.20,111.80C175.02,112.17 176.47,113.25 177.40,114.50C178.33,115.75 179.08,117.50 179.80,119.30C180.52,121.10 180.83,122.05 181.70,125.30C182.57,128.55 184.10,134.68 185.00,138.80C185.90,142.92 186.28,145.63 187.10,150.00C187.92,154.37 188.77,160.17 189.90,165.00C191.03,169.83 192.70,175.17 193.90,179.00C195.10,182.83 196.05,185.12 197.10,188.00C198.15,190.88 199.27,193.73 200.20,196.25C201.12,198.77 201.85,200.91 202.65,203.10C203.45,205.29 204.13,207.36 205.00,209.40C205.87,211.44 206.58,213.42 207.85,215.35C209.12,217.28 210.83,219.14 212.64,221.01C214.46,222.88 216.67,225.02 218.73,226.56C220.79,228.10 222.90,229.19 225.03,230.25C227.16,231.30 228.99,232.06 231.49,232.90C233.98,233.74 236.91,234.63 240.00,235.30C243.09,235.98 247.00,236.53 250.00,236.96C253.00,237.40 254.67,237.60 258.00,237.91C261.33,238.23 264.67,238.53 270.00,238.85C275.33,239.18 283.33,239.55 290.00,239.85C296.67,240.15 303.33,240.41 310.00,240.65C316.67,240.89 323.35,241.10 330.00,241.30C336.65,241.49 346.58,241.71 349.90,241.80"/>
<path stroke="#98b818" d="M48.50,241.90C49.75,241.73 53.58,241.22 56.00,240.87C58.42,240.52 60.67,240.19 63.00,239.80C65.33,239.41 67.50,239.06 70.00,238.52C72.50,237.98 75.50,237.31 78.00,236.58C80.50,235.84 82.83,235.05 85.00,234.12C87.17,233.20 89.17,232.17 91.00,231.03C92.83,229.89 94.50,228.60 96.00,227.29C97.50,225.99 98.67,224.77 100.00,223.21C101.33,221.64 102.67,219.85 104.00,217.90C105.33,215.95 105.70,214.98 108.00,211.50C110.30,208.02 115.58,200.17 117.77,197.00C119.97,193.83 120.10,193.70 121.16,192.50C122.23,191.30 122.73,190.32 124.16,189.80C125.60,189.28 128.19,189.52 129.80,189.40C131.41,189.28 132.38,189.87 133.80,189.10C135.22,188.33 136.78,186.65 138.30,184.80C139.82,182.95 141.45,180.38 142.90,178.00C144.35,175.62 145.65,173.17 147.00,170.50C148.35,167.83 149.67,165.17 151.00,162.00C152.33,158.83 153.62,155.08 155.00,151.50C156.38,147.92 158.02,143.00 159.30,140.50C160.58,138.00 161.57,138.02 162.70,136.50C163.83,134.98 165.05,132.85 166.10,131.40C167.15,129.95 168.10,128.70 169.00,127.80C169.90,126.90 170.73,126.40 171.50,126.00C172.27,125.60 172.72,125.05 173.60,125.40C174.48,125.75 175.87,126.85 176.80,128.10C177.73,129.35 178.48,131.10 179.20,132.90C179.92,134.70 180.23,135.65 181.10,138.90C181.97,142.15 183.14,148.05 184.40,152.40C185.66,156.75 187.33,160.57 188.68,165.00C190.03,169.43 191.33,175.17 192.50,179.00C193.67,182.83 194.63,185.05 195.70,188.00C196.77,190.95 197.98,194.03 198.92,196.69C199.86,199.34 200.57,201.64 201.34,203.92C202.11,206.19 202.68,208.22 203.54,210.33C204.40,212.45 205.19,214.56 206.48,216.60C207.77,218.64 209.46,220.59 211.30,222.57C213.14,224.55 215.34,226.89 217.49,228.48C219.64,230.08 221.94,231.13 224.20,232.14C226.46,233.14 228.42,233.75 231.05,234.52C233.68,235.29 236.84,236.11 240.00,236.74C243.16,237.38 247.00,237.91 250.00,238.33C253.00,238.74 254.67,238.94 258.00,239.22C261.33,239.49 264.67,239.68 270.00,239.97C275.33,240.26 283.33,240.69 290.00,240.97C296.67,241.25 303.33,241.43 310.00,241.64C316.67,241.85 323.35,242.04 330.00,242.22C336.65,242.41 346.58,242.64 349.90,242.73"/>
<path stroke="#888888" d="M48.50,241.34C49.75,241.17 53.58,240.68 56.00,240.31C58.42,239.94 60.67,239.55 63.00,239.10C65.33,238.65 67.50,238.21 70.00,237.58C72.50,236.95 75.50,236.15 78.00,235.34C80.50,234.52 82.83,233.70 85.00,232.71C87.17,231.73 89.17,230.67 91.00,229.43C92.83,228.19 94.50,226.75 96.00,225.29C97.50,223.83 98.67,222.42 100.00,220.68C101.33,218.94 102.67,216.97 104.00,214.86C105.33,212.74 106.31,210.98 108.00,208.00C109.69,205.02 112.43,200.50 114.15,197.00C115.88,193.50 117.12,190.33 118.35,187.00C119.59,183.67 120.44,179.58 121.55,177.00C122.66,174.42 123.93,172.87 125.01,171.50C126.08,170.13 126.54,169.37 128.01,168.80C129.47,168.23 132.22,168.98 133.80,168.10C135.38,167.22 136.38,165.18 137.50,163.50C138.62,161.82 139.58,160.17 140.50,158.00C141.42,155.83 142.22,153.00 143.00,150.50C143.78,148.00 144.48,145.42 145.20,143.00C145.92,140.58 146.63,138.50 147.30,136.00C147.97,133.50 148.53,130.90 149.20,128.00C149.87,125.10 150.53,121.85 151.30,118.60C152.07,115.35 152.93,111.93 153.80,108.50C154.67,105.07 155.67,101.00 156.50,98.00C157.33,95.00 157.97,92.83 158.80,90.50C159.63,88.17 160.62,85.45 161.50,84.00C162.38,82.55 163.10,81.67 164.10,81.80C165.10,81.93 166.38,83.43 167.50,84.80C168.62,86.17 169.70,88.22 170.80,90.00C171.90,91.78 173.15,93.58 174.10,95.50C175.05,97.42 175.75,99.25 176.50,101.50C177.25,103.75 177.90,106.25 178.60,109.00C179.30,111.75 180.00,114.83 180.70,118.00C181.40,121.17 182.14,124.33 182.80,128.00C183.46,131.67 184.01,136.33 184.65,140.00C185.29,143.67 185.84,145.83 186.62,150.00C187.41,154.17 188.26,160.17 189.38,165.00C190.49,169.83 192.11,175.17 193.30,179.00C194.49,182.83 195.44,185.09 196.50,188.00C197.56,190.91 198.72,193.86 199.65,196.44C200.58,199.01 201.30,201.22 202.09,203.45C202.88,205.68 203.51,207.73 204.38,209.80C205.24,211.87 205.97,213.92 207.26,215.89C208.55,217.86 210.28,219.73 212.13,221.61C213.98,223.48 216.23,225.63 218.35,227.15C220.47,228.66 222.65,229.70 224.83,230.71C227.00,231.73 228.87,232.42 231.40,233.22C233.93,234.02 236.90,234.86 240.00,235.51C243.10,236.15 247.00,236.67 250.00,237.08C253.00,237.50 254.67,237.69 258.00,237.99C261.33,238.30 264.67,238.60 270.00,238.92C275.33,239.24 283.33,239.62 290.00,239.92C296.67,240.22 303.33,240.47 310.00,240.71C316.67,240.95 323.35,241.16 330.00,241.35C336.65,241.54 346.58,241.77 349.90,241.85"/>
<path stroke="#b06868" d="M48.50,241.74C49.75,241.57 53.58,241.07 56.00,240.71C58.42,240.35 60.67,240.01 63.00,239.60C65.33,239.19 67.50,238.81 70.00,238.25C72.50,237.69 75.50,236.98 78.00,236.22C80.50,235.47 82.83,234.66 85.00,233.72C87.17,232.78 89.17,231.74 91.00,230.57C92.83,229.41 94.50,228.07 96.00,226.72C97.50,225.37 98.67,224.10 100.00,222.49C101.33,220.87 102.67,219.02 104.00,217.03C105.33,215.03 105.88,213.84 108.00,210.50C110.12,207.16 114.53,200.45 116.74,197.00C118.95,193.55 120.01,191.45 121.26,189.80C122.52,188.15 122.84,187.62 124.26,187.10C125.69,186.58 128.21,186.82 129.80,186.70C131.39,186.58 132.43,187.10 133.80,186.40C135.17,185.70 136.55,184.40 138.00,182.50C139.45,180.60 141.08,177.58 142.50,175.00C143.92,172.42 145.22,169.50 146.50,167.00C147.78,164.50 149.02,162.72 150.20,160.00C151.38,157.28 152.47,153.57 153.60,150.70C154.73,147.83 155.85,144.88 157.00,142.80C158.15,140.72 159.27,139.53 160.50,138.20C161.73,136.87 162.90,135.83 164.40,134.80C165.90,133.77 168.02,132.65 169.50,132.00C170.98,131.35 172.13,130.63 173.30,130.90C174.47,131.17 175.57,132.35 176.50,133.60C177.43,134.85 178.18,136.60 178.90,138.40C179.62,140.20 179.93,141.15 180.80,144.40C181.67,147.65 182.28,152.13 184.10,157.90C185.92,163.67 189.90,173.98 191.70,179.00C193.50,184.02 193.82,185.01 194.90,188.00C195.98,190.99 197.24,194.21 198.18,196.94C199.13,199.67 199.83,202.06 200.59,204.38C201.34,206.70 201.86,208.71 202.71,210.87C203.56,213.02 204.35,215.27 205.70,217.32C207.04,219.37 208.84,221.28 210.79,223.16C212.74,225.04 215.15,227.17 217.42,228.60C219.68,230.04 222.05,230.91 224.36,231.79C226.66,232.66 228.62,233.20 231.22,233.87C233.83,234.55 236.87,235.29 240.00,235.84C243.13,236.39 247.00,236.82 250.00,237.17C253.00,237.52 254.67,237.67 258.00,237.95C261.33,238.24 264.67,238.57 270.00,238.89C275.33,239.21 283.33,239.59 290.00,239.89C296.67,240.19 303.33,240.44 310.00,240.68C316.67,240.92 323.35,241.13 330.00,241.33C336.65,241.52 346.58,241.74 349.90,241.82"/>
<path stroke="#509850" d="M48.50,241.82C49.75,241.65 53.58,241.14 56.00,240.79C58.42,240.44 60.67,240.10 63.00,239.70C65.33,239.30 67.50,238.93 70.00,238.38C72.50,237.83 75.50,237.14 78.00,236.40C80.50,235.66 82.83,234.85 85.00,233.92C87.17,232.99 89.17,231.95 91.00,230.80C92.83,229.65 94.50,228.33 96.00,227.01C97.50,225.68 98.67,224.44 100.00,222.85C101.33,221.26 102.67,219.44 104.00,217.46C105.33,215.49 106.08,213.86 108.00,211.00C109.92,208.14 113.70,202.43 115.50,200.30C117.30,198.17 117.30,198.82 118.80,198.20C120.30,197.58 122.60,196.77 124.50,196.60C126.40,196.43 128.45,197.05 130.20,197.20C131.95,197.35 133.32,197.88 135.00,197.50C136.68,197.12 138.63,196.48 140.30,194.90C141.97,193.32 143.45,190.62 145.00,188.00C146.55,185.38 148.30,182.20 149.60,179.20C150.90,176.20 151.90,173.12 152.80,170.00C153.70,166.88 154.27,163.33 155.00,160.50C155.73,157.67 156.47,155.38 157.20,153.00C157.93,150.62 158.47,148.47 159.40,146.20C160.33,143.93 161.48,141.48 162.80,139.40C164.12,137.32 165.93,135.07 167.30,133.70C168.67,132.33 169.87,131.72 171.00,131.20C172.13,130.68 173.05,130.25 174.10,130.60C175.15,130.95 176.37,132.05 177.30,133.30C178.23,134.55 178.98,136.30 179.70,138.10C180.42,139.90 180.73,140.85 181.60,144.10C182.47,147.35 183.25,151.78 184.90,157.60C186.55,163.42 189.87,173.93 191.50,179.00C193.13,184.07 193.62,185.00 194.70,188.00C195.78,191.00 197.05,194.25 198.00,197.00C198.95,199.75 199.65,202.17 200.40,204.50C201.15,206.83 201.65,208.83 202.50,211.00C203.35,213.17 204.17,215.42 205.50,217.50C206.83,219.58 208.58,221.54 210.50,223.50C212.42,225.46 214.75,227.73 217.00,229.25C219.25,230.77 221.67,231.69 224.00,232.60C226.33,233.51 228.33,234.02 231.00,234.70C233.67,235.38 236.83,236.13 240.00,236.70C243.17,237.27 247.00,237.73 250.00,238.10C253.00,238.47 254.67,238.63 258.00,238.90C261.33,239.17 264.67,239.40 270.00,239.70C275.33,240.00 283.33,240.42 290.00,240.70C296.67,240.98 303.33,241.18 310.00,241.40C316.67,241.62 323.35,241.82 330.00,242.00C336.65,242.18 346.58,242.42 349.90,242.50"/>
</g>
<path d="M48.50,247.00 v-4.60M48.50,4.30 v4.60M63.57,247.00 v-2.60M63.57,4.30 v2.60M78.64,247.00 v-4.60M78.64,4.30 v4.60M93.71,247.00 v-2.60M93.71,4.30 v2.60M108.78,247.00 v-4.60M108.78,4.30 v4.60M123.85,247.00 v-2.60M123.85,4.30 v2.60M138.92,247.00 v-4.60M138.92,4.30 v4.60M153.99,247.00 v-2.60M153.99,4.30 v2.60M169.06,247.00 v-4.60M169.06,4.30 v4.60M184.13,247.00 v-2.60M184.13,4.30 v2.60M199.20,247.00 v-4.60M199.20,4.30 v4.60M214.27,247.00 v-2.60M214.27,4.30 v2.60M229.34,247.00 v-4.60M229.34,4.30 v4.60M244.41,247.00 v-2.60M244.41,4.30 v2.60M259.48,247.00 v-4.60M259.48,4.30 v4.60M274.55,247.00 v-2.60M274.55,4.30 v2.60M289.62,247.00 v-4.60M289.62,4.30 v4.60M304.69,247.00 v-2.60M304.69,4.30 v2.60M319.76,247.00 v-4.60M319.76,4.30 v4.60M334.83,247.00 v-2.60M334.83,4.30 v2.60M349.90,247.00 v-4.60M349.90,4.30 v4.60M48.50,247.00 h5.00M349.90,247.00 h-5.00M48.50,244.57 h2.80M349.90,244.57 h-2.80M48.50,242.15 h2.80M349.90,242.15 h-2.80M48.50,239.72 h2.80M349.90,239.72 h-2.80M48.50,237.29 h2.80M349.90,237.29 h-2.80M48.50,234.87 h2.80M349.90,234.87 h-2.80M48.50,232.44 h2.80M349.90,232.44 h-2.80M48.50,230.01 h2.80M349.90,230.01 h-2.80M48.50,227.58 h2.80M349.90,227.58 h-2.80M48.50,225.16 h2.80M349.90,225.16 h-2.80M48.50,222.73 h5.00M349.90,222.73 h-5.00M48.50,220.30 h2.80M349.90,220.30 h-2.80M48.50,217.88 h2.80M349.90,217.88 h-2.80M48.50,215.45 h2.80M349.90,215.45 h-2.80M48.50,213.02 h2.80M349.90,213.02 h-2.80M48.50,210.59 h2.80M349.90,210.59 h-2.80M48.50,208.17 h2.80M349.90,208.17 h-2.80M48.50,205.74 h2.80M349.90,205.74 h-2.80M48.50,203.31 h2.80M349.90,203.31 h-2.80M48.50,200.89 h2.80M349.90,200.89 h-2.80M48.50,198.46 h5.00M349.90,198.46 h-5.00M48.50,196.03 h2.80M349.90,196.03 h-2.80M48.50,193.61 h2.80M349.90,193.61 h-2.80M48.50,191.18 h2.80M349.90,191.18 h-2.80M48.50,188.75 h2.80M349.90,188.75 h-2.80M48.50,186.32 h2.80M349.90,186.32 h-2.80M48.50,183.90 h2.80M349.90,183.90 h-2.80M48.50,181.47 h2.80M349.90,181.47 h-2.80M48.50,179.04 h2.80M349.90,179.04 h-2.80M48.50,176.62 h2.80M349.90,176.62 h-2.80M48.50,174.19 h5.00M349.90,174.19 h-5.00M48.50,171.76 h2.80M349.90,171.76 h-2.80M48.50,169.34 h2.80M349.90,169.34 h-2.80M48.50,166.91 h2.80M349.90,166.91 h-2.80M48.50,164.48 h2.80M349.90,164.48 h-2.80M48.50,162.06 h2.80M349.90,162.06 h-2.80M48.50,159.63 h2.80M349.90,159.63 h-2.80M48.50,157.20 h2.80M349.90,157.20 h-2.80M48.50,154.77 h2.80M349.90,154.77 h-2.80M48.50,152.35 h2.80M349.90,152.35 h-2.80M48.50,149.92 h5.00M349.90,149.92 h-5.00M48.50,147.49 h2.80M349.90,147.49 h-2.80M48.50,145.07 h2.80M349.90,145.07 h-2.80M48.50,142.64 h2.80M349.90,142.64 h-2.80M48.50,140.21 h2.80M349.90,140.21 h-2.80M48.50,137.79 h2.80M349.90,137.79 h-2.80M48.50,135.36 h2.80M349.90,135.36 h-2.80M48.50,132.93 h2.80M349.90,132.93 h-2.80M48.50,130.50 h2.80M349.90,130.50 h-2.80M48.50,128.08 h2.80M349.90,128.08 h-2.80M48.50,125.65 h5.00M349.90,125.65 h-5.00M48.50,123.22 h2.80M349.90,123.22 h-2.80M48.50,120.80 h2.80M349.90,120.80 h-2.80M48.50,118.37 h2.80M349.90,118.37 h-2.80M48.50,115.94 h2.80M349.90,115.94 h-2.80M48.50,113.52 h2.80M349.90,113.52 h-2.80M48.50,111.09 h2.80M349.90,111.09 h-2.80M48.50,108.66 h2.80M349.90,108.66 h-2.80M48.50,106.23 h2.80M349.90,106.23 h-2.80M48.50,103.81 h2.80M349.90,103.81 h-2.80M48.50,101.38 h5.00M349.90,101.38 h-5.00M48.50,98.95 h2.80M349.90,98.95 h-2.80M48.50,96.53 h2.80M349.90,96.53 h-2.80M48.50,94.10 h2.80M349.90,94.10 h-2.80M48.50,91.67 h2.80M349.90,91.67 h-2.80M48.50,89.25 h2.80M349.90,89.25 h-2.80M48.50,86.82 h2.80M349.90,86.82 h-2.80M48.50,84.39 h2.80M349.90,84.39 h-2.80M48.50,81.96 h2.80M349.90,81.96 h-2.80M48.50,79.54 h2.80M349.90,79.54 h-2.80M48.50,77.11 h5.00M349.90,77.11 h-5.00M48.50,74.68 h2.80M349.90,74.68 h-2.80M48.50,72.26 h2.80M349.90,72.26 h-2.80M48.50,69.83 h2.80M349.90,69.83 h-2.80M48.50,67.40 h2.80M349.90,67.40 h-2.80M48.50,64.98 h2.80M349.90,64.98 h-2.80M48.50,62.55 h2.80M349.90,62.55 h-2.80M48.50,60.12 h2.80M349.90,60.12 h-2.80M48.50,57.69 h2.80M349.90,57.69 h-2.80M48.50,55.27 h2.80M349.90,55.27 h-2.80M48.50,52.84 h5.00M349.90,52.84 h-5.00M48.50,50.41 h2.80M349.90,50.41 h-2.80M48.50,47.99 h2.80M349.90,47.99 h-2.80M48.50,45.56 h2.80M349.90,45.56 h-2.80M48.50,43.13 h2.80M349.90,43.13 h-2.80M48.50,40.71 h2.80M349.90,40.71 h-2.80M48.50,38.28 h2.80M349.90,38.28 h-2.80M48.50,35.85 h2.80M349.90,35.85 h-2.80M48.50,33.42 h2.80M349.90,33.42 h-2.80M48.50,31.00 h2.80M349.90,31.00 h-2.80M48.50,28.57 h5.00M349.90,28.57 h-5.00M48.50,26.14 h2.80M349.90,26.14 h-2.80M48.50,23.72 h2.80M349.90,23.72 h-2.80M48.50,21.29 h2.80M349.90,21.29 h-2.80M48.50,18.86 h2.80M349.90,18.86 h-2.80M48.50,16.44 h2.80M349.90,16.44 h-2.80M48.50,14.01 h2.80M349.90,14.01 h-2.80M48.50,11.58 h2.80M349.90,11.58 h-2.80M48.50,9.15 h2.80M349.90,9.15 h-2.80M48.50,6.73 h2.80M349.90,6.73 h-2.80M48.50,4.30 h5.00M349.90,4.30 h-5.00" stroke="#000" stroke-width="1" fill="none"/>
<rect x="48.50" y="4.30" width="301.40" height="242.70" fill="none" stroke="#000" stroke-width="1.1"/>
<g font-family="'Liberation Sans', sans-serif" fill="#000" stroke="#000" stroke-width="0.25" class="t">
<g font-size="10.4px" text-anchor="middle">
<text transform="translate(48.80,260.7) rotate(0.03)">3.0</text>
<text transform="translate(78.94,260.7) rotate(0.03)">3.1</text>
<text transform="translate(109.08,260.7) rotate(0.03)">3.2</text>
<text transform="translate(139.22,260.7) rotate(0.03)">3.3</text>
<text transform="translate(169.36,260.7) rotate(0.03)">3.4</text>
<text transform="translate(199.50,260.7) rotate(0.03)">3.5</text>
<text transform="translate(229.64,260.7) rotate(0.03)">3.6</text>
<text transform="translate(259.78,260.7) rotate(0.03)">3.7</text>
<text transform="translate(289.92,260.7) rotate(0.03)">3.8</text>
<text transform="translate(320.06,260.7) rotate(0.03)">3.9</text>
<text transform="translate(350.20,260.7) rotate(0.03)">4.0</text>
</g>
<g font-size="10.4px" text-anchor="end">
<text transform="translate(43.6,250.35) rotate(0.03)">0.00</text>
<text transform="translate(43.6,226.08) rotate(0.03)">0.02</text>
<text transform="translate(43.6,201.81) rotate(0.03)">0.04</text>
<text transform="translate(43.6,177.54) rotate(0.03)">0.06</text>
<text transform="translate(43.6,153.27) rotate(0.03)">0.08</text>
<text transform="translate(43.6,129.00) rotate(0.03)">0.10</text>
<text transform="translate(43.6,104.73) rotate(0.03)">0.12</text>
<text transform="translate(43.6,80.46) rotate(0.03)">0.14</text>
<text transform="translate(43.6,56.19) rotate(0.03)">0.16</text>
<text transform="translate(43.6,31.92) rotate(0.03)">0.18</text>
<text transform="translate(43.6,7.65) rotate(0.03)">0.20</text>
</g>
<text transform="translate(199.8,279.3) rotate(0.03)" font-size="12.7px" text-anchor="middle">Wavelength (µm)</text>
<text transform="translate(10.2,115.8) rotate(-90)" font-size="12.6px" text-anchor="middle">Relative intenisty (arbitrary scale)</text>
</g>
<g fill="none" stroke-width="1.6">
<path d="M309.6,32.30 H324.8" stroke="#000000"/>
<path d="M309.6,40.14 H324.8" stroke="#ff0000"/>
<path d="M309.6,47.98 H324.8" stroke="#0000ff"/>
<path d="M309.6,55.82 H324.8" stroke="#ff00ff"/>
<path d="M309.6,63.66 H324.8" stroke="#008000"/>
<path d="M309.6,71.50 H324.8" stroke="#000080"/>
<path d="M309.6,79.34 H324.8" stroke="#8000ff"/>
<path d="M309.6,87.18 H324.8" stroke="#a81c8c"/>
<path d="M309.6,95.02 H324.8" stroke="#800000"/>
<path d="M309.6,102.86 H324.8" stroke="#808000"/>
<path d="M309.6,110.70 H324.8" stroke="#2060c0"/>
<path d="M309.6,118.54 H324.8" stroke="#20a0a0"/>
<path d="M309.6,126.38 H324.8" stroke="#b8864b"/>
<path d="M309.6,134.22 H324.8" stroke="#30d860"/>
<path d="M309.6,142.06 H324.8" stroke="#d01890"/>
<path d="M309.6,149.90 H324.8" stroke="#20c8d8"/>
<path d="M309.6,157.74 H324.8" stroke="#3030b0"/>
<path d="M309.6,165.58 H324.8" stroke="#98b818"/>
<path d="M309.6,173.42 H324.8" stroke="#888888"/>
<path d="M309.6,181.26 H324.8" stroke="#b06868"/>
<path d="M309.6,189.10 H324.8" stroke="#509850"/>
</g>
<g font-family="'Liberation Sans', sans-serif" font-size="6.5px" fill="#000" stroke="#000" stroke-width="0.28" class="t">
<text transform="translate(326.6,34.30) rotate(0.03)">115</text>
<text transform="translate(326.6,42.14) rotate(0.03)">116</text>
<text transform="translate(326.6,49.98) rotate(0.03)">117</text>
<text transform="translate(326.6,57.82) rotate(0.03)">118</text>
<text transform="translate(326.6,65.66) rotate(0.03)">119</text>
<text transform="translate(326.6,73.50) rotate(0.03)">120</text>
<text transform="translate(326.6,81.34) rotate(0.03)">121</text>
<text transform="translate(326.6,89.18) rotate(0.03)">122</text>
<text transform="translate(326.6,97.02) rotate(0.03)">123</text>
<text transform="translate(326.6,104.86) rotate(0.03)">124</text>
<text transform="translate(326.6,112.70) rotate(0.03)">125</text>
<text transform="translate(326.6,120.54) rotate(0.03)">126</text>
<text transform="translate(326.6,128.38) rotate(0.03)">127</text>
<text transform="translate(326.6,136.22) rotate(0.03)">128</text>
<text transform="translate(326.6,144.06) rotate(0.03)">129</text>
<text transform="translate(326.6,151.90) rotate(0.03)">130</text>
<text transform="translate(326.6,159.74) rotate(0.03)">131</text>
<text transform="translate(326.6,167.58) rotate(0.03)">132</text>
<text transform="translate(326.6,175.42) rotate(0.03)">133</text>
<text transform="translate(326.6,183.26) rotate(0.03)">134</text>
<text transform="translate(326.6,191.10) rotate(0.03)">135</text>
</g>
</svg>
</body></html>
